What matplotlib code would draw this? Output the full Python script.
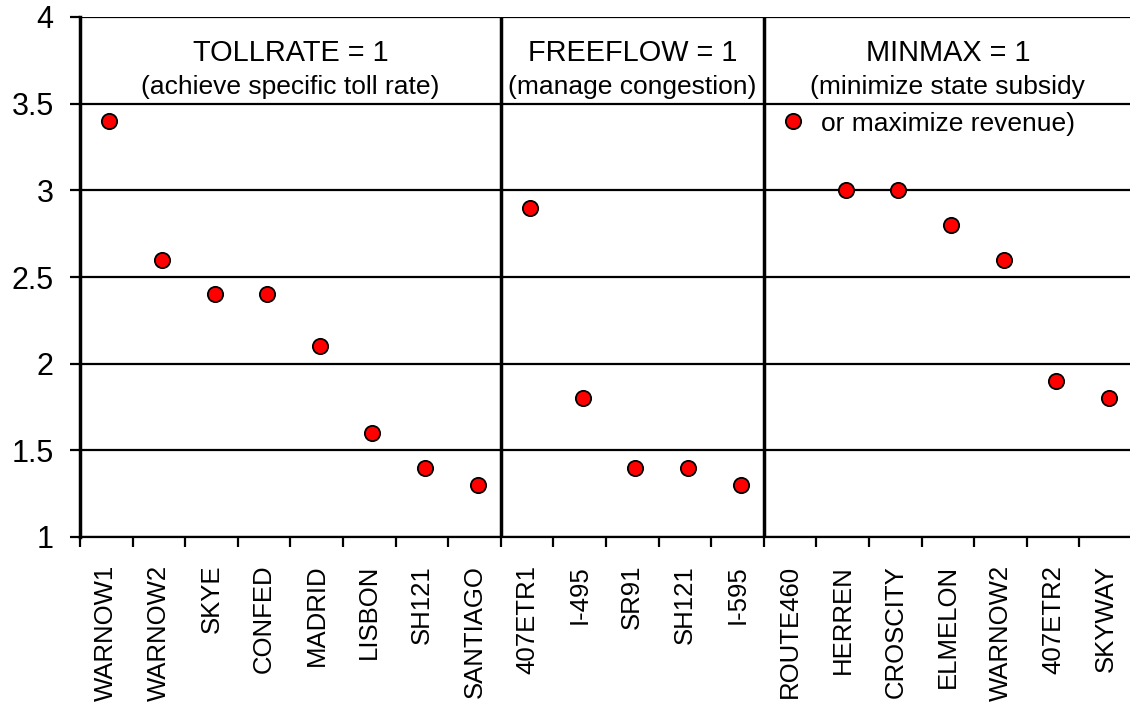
import matplotlib
matplotlib.use("Agg")
import matplotlib.pyplot as plt
from matplotlib.ticker import FixedLocator
from matplotlib.transforms import ScaledTranslation

plt.rcParams['font.family'] = ['Liberation Sans', 'DejaVu Sans']

categories = ["WARNOW1", "WARNOW2", "SKYE", "CONFED", "MADRID", "LISBON", "SH121", "SANTIAGO",
              "407ETR1", "I-495", "SR91", "SH121", "I-595",
              "ROUTE460", "HERREN", "CROSCITY", "ELMELON", "WARNOW2", "407ETR2", "SKYWAY"]
values = [3.4, 2.6, 2.4, 2.4, 2.1, 1.6, 1.4, 1.3,
          2.9, 1.8, 1.4, 1.4, 1.3,
          3.4, 3.0, 3.0, 2.8, 2.6, 1.9, 1.8]
group_sizes = [8, 5, 7]
group_titles = ["TOLLRATE = 1", "FREEFLOW = 1", "MINMAX = 1"]
group_subtitles = ["(achieve specific toll rate)", "(manage congestion)",
                   "(minimize state subsidy"]
extra_line = "or maximize revenue)"
yticks = [1, 1.5, 2, 2.5, 3, 3.5, 4]
ytick_labels = ["1", "1.5", "2", "2.5", "3", "3.5", "4"]

W, H = 1130, 703
fig = plt.figure(figsize=(W / 100, H / 100), dpi=100)
ax = fig.add_axes([80 / W, (H - 537) / H, 1052 / W, 520 / H])

n = len(categories)
x = list(range(n))
ax.set_xlim(-0.5, n - 0.5)
ax.set_ylim(1, 4)

# gridlines
ax.set_yticks(yticks)
ax.set_yticklabels(ytick_labels, fontsize=22)
ax.yaxis.grid(True, color='black', linewidth=1.6)
ax.set_axisbelow(True)

# x ticks
ax.set_xticks(x)
ax.set_xticklabels(categories, rotation=90, fontsize=18.5, va='top', ha='center')
ax.xaxis.set_minor_locator(FixedLocator([i - 0.5 for i in range(n + 1)]))
ax.tick_params(axis='x', which='major', length=0, pad=20)
ax.tick_params(axis='x', which='minor', length=7, width=1.6, direction='out')
ax.tick_params(axis='y', length=7, width=1.6, direction='out', pad=12)

for side in ['top', 'right']:
    ax.spines[side].set_visible(False)
ax.spines['left'].set_linewidth(2.5)
ax.spines['bottom'].set_linewidth(1.6)

# group separators and titles
start = 0
for i, size in enumerate(group_sizes):
    end = start + size
    if i > 0:
        ax.axvline(start - 0.5, color='black', linewidth=2.5)
    cx = (start + end - 1) / 2
    ax.text(cx, 3.79, group_titles[i], ha='center', va='center', fontsize=20.8)
    ax.text(cx, 3.595, group_subtitles[i], ha='center', va='center', fontsize=19)
    if i == 2:
        ax.text(cx, 3.385, extra_line, ha='center', va='center', fontsize=19)
    start = end

offset = ScaledTranslation(3 / 100, 0, fig.dpi_scale_trans)
ax.plot(x, values, linestyle='none', marker='o', markersize=11,
        markerfacecolor='#ff0000', markeredgecolor='black', markeredgewidth=1.3,
        zorder=5, clip_on=False, transform=ax.transData + offset)

fig.savefig("out.png", dpi=100)
